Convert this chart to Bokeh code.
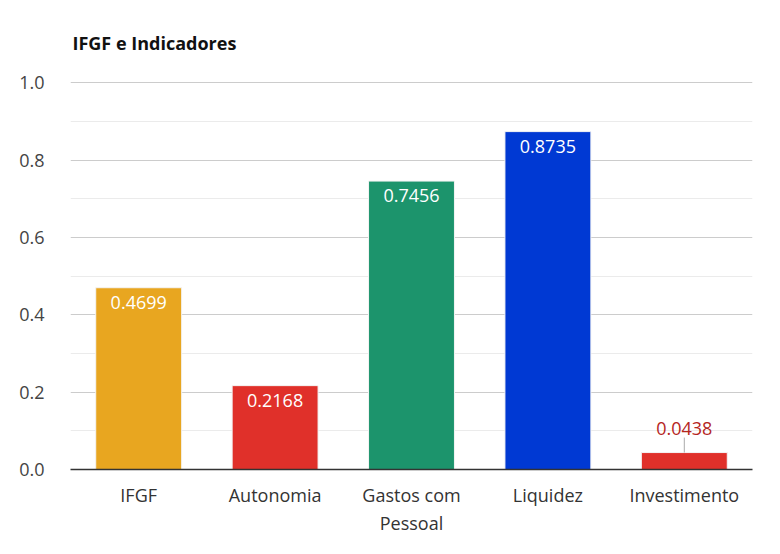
from bokeh.plotting import figure
from bokeh.models import ColumnDataSource, FactorRange, Range1d, FixedTicker, Title, CustomJSTickFormatter
from bokeh.core.properties import value
from bokeh.embed import file_html
from bokeh.resources import INLINE

categories = ["IFGF", "Autonomia", "Gastos com\nPessoal", "Liquidez", "Investimento"]
values = [0.4699, 0.2168, 0.7456, 0.8735, 0.0438]
labels = ["0.4699", "0.2168", "0.7456", "0.8735", "0.0438"]
colors = ["#E8A620", "#E0302A", "#1C946C", "#0039D3", "#E0302A"]
inside = [True, True, True, True, False]
y_ticks = [0.0, 0.2, 0.4, 0.6, 0.8, 1.0]
minor_ticks = [0.1, 0.3, 0.5, 0.7, 0.9]

FONT = "Open Sans"

p = figure(width=764, height=538, output_backend="svg", toolbar_location=None,
           x_range=FactorRange(*categories, range_padding=0.0),
           y_range=Range1d(0, 1.003),
           min_border_left=70, min_border_right=12, min_border_top=81, min_border_bottom=63)
p.outline_line_color = None
p.background_fill_color = "white"
p.border_fill_color = "white"

p.title = Title(text="IFGF e Indicadores", text_font=FONT, text_font_size="18px",
                text_font_style="bold", text_color="#111111", offset=2, standoff=54)
p.title.align = "left"

src = ColumnDataSource(dict(x=categories, top=values, color=colors))
p.vbar(x="x", top="top", width=0.63, color="color", line_color="#f4f4f4", line_width=1, source=src)

in_x = [c for c, f in zip(categories, inside) if f]
in_y = [v for v, f in zip(values, inside) if f]
in_t = [l for l, f in zip(labels, inside) if f]
p.text(x=in_x, y=in_y, text=in_t, text_align="center", text_baseline="top", y_offset=8,
       text_color="white", text_font=value(FONT), text_font_size="18px")

out_x = [c for c, f in zip(categories, inside) if not f]
out_y = [v for v, f in zip(values, inside) if not f]
out_t = [l for l, f in zip(labels, inside) if not f]
px_per_unit = 387.0  # frame pixels per data unit
p.segment(x0=out_x, y0=out_y, x1=out_x, y1=[v + 15 / px_per_unit for v in out_y],
          line_color="#aaaaaa", line_width=1)
p.text(x=out_x, y=out_y, text=out_t, text_align="center", text_baseline="bottom", y_offset=-18,
       text_color="#B5261E", text_font=value(FONT), text_font_size="18px")

p.yaxis.ticker = FixedTicker(ticks=y_ticks, minor_ticks=minor_ticks)
p.yaxis.formatter = CustomJSTickFormatter(code="return tick.toFixed(1);")
p.yaxis.axis_line_color = None
p.yaxis.major_tick_line_color = None
p.yaxis.minor_tick_line_color = None
p.yaxis.major_label_text_font = FONT
p.yaxis.major_label_text_font_size = "18px"
p.yaxis.major_label_text_color = "#444444"
p.yaxis.major_label_standoff = 20

p.xaxis.axis_line_color = "#333333"
p.xaxis.axis_line_width = 1.5
p.xaxis.major_tick_line_color = None
p.xaxis.minor_tick_line_color = None
p.xaxis.major_label_text_font = FONT
p.xaxis.major_label_text_font_size = "18px"
p.xaxis.major_label_text_color = "#333333"
p.xaxis.major_label_standoff = 7

p.xgrid.grid_line_color = None
p.ygrid.grid_line_color = "#cccccc"
p.ygrid.minor_grid_line_color = "#ebebeb"

open("out.html", "w").write(file_html(p, INLINE))
